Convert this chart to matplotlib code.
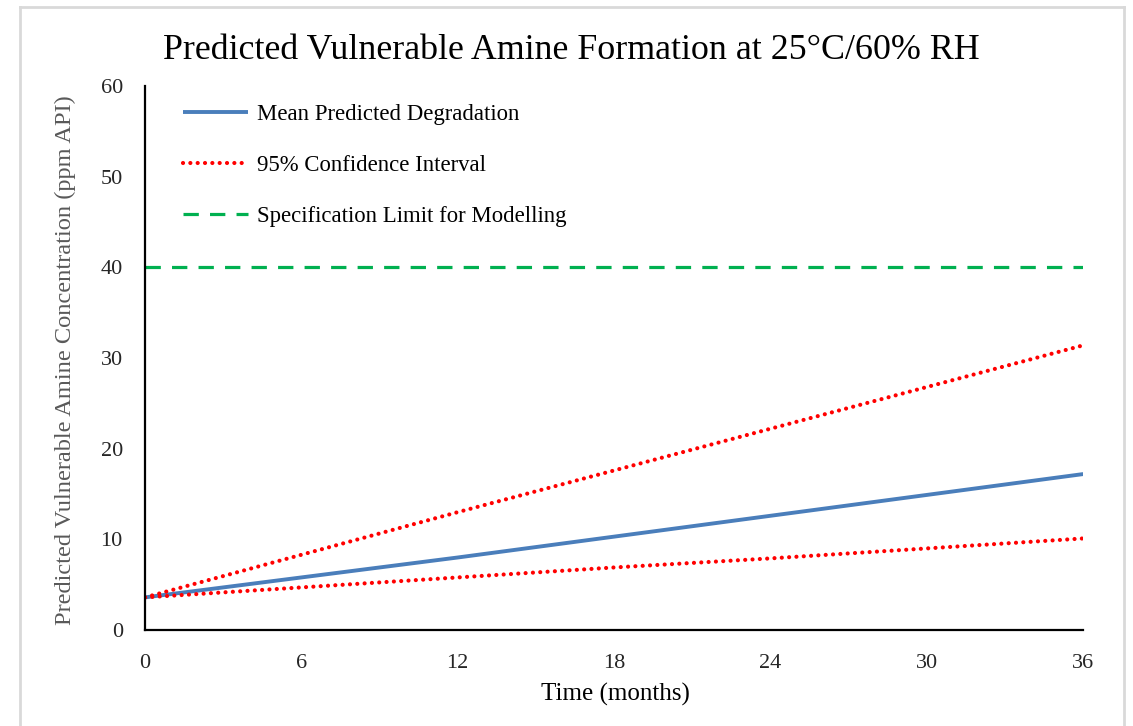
import numpy as np
import matplotlib.pyplot as plt
from matplotlib.lines import Line2D

plt.rcParams["font.family"] = ["Liberation Serif", "DejaVu Serif"]

# -----------------------------
# Model output (ppm API)
# -----------------------------
months = [0, 6, 12, 18, 24, 30, 36]
mean_pred = [3.6, 5.8, 8.0, 10.3, 12.6, 14.9, 17.2]
ci_upper = [3.6, 8.3, 13.0, 17.6, 22.2, 26.8, 31.4]
ci_lower = [3.6, 4.7, 5.8, 6.9, 7.9, 9.0, 10.1]
spec_limit = 40

fig = plt.figure(figsize=(11.33, 7.26), dpi=100)
ax = fig.add_axes([0.128, 0.1322, 0.828, 0.7493])

ax.plot(months, mean_pred, color="#4a7ebb", lw=2.8,
        solid_capstyle="butt", label="Mean Predicted Degradation")
ax.plot(months, ci_upper, color="#ff0000", lw=3,
        linestyle=(0, (0.01, 1.75)), dash_capstyle="round",
        label="95% Confidence Interval")
ax.plot(months, ci_lower, color="#ff0000", lw=3,
        linestyle=(0, (0.01, 1.75)), dash_capstyle="round")
ax.plot([months[0], months[-1]], [spec_limit, spec_limit], color="#00b050",
        lw=2.3, linestyle=(0, (4.8, 3.5)),
        label="Specification Limit for Modelling")

ax.set_xlim(0, 36)
ax.set_ylim(0, 60)
ax.set_xticks(months)
ax.set_yticks(range(0, 61, 10))
ax.tick_params(length=0, labelsize=16, colors="#262626")
ax.tick_params(axis="y", pad=16)
ax.tick_params(axis="x", pad=17)

for side in ["top", "right"]:
    ax.spines[side].set_visible(False)
for side in ["left", "bottom"]:
    ax.spines[side].set_linewidth(1.6)
    ax.spines[side].set_color("black")

ax.set_xlabel("Time (months)", fontsize=18)
ax.xaxis.set_label_coords(0.501, -0.097)
ax.set_ylabel("Predicted Vulnerable Amine Concentration (ppm API)",
              fontsize=17.6, color="#595959")
ax.yaxis.set_label_coords(-0.0737, 0.496)
fig.suptitle("Predicted Vulnerable Amine Formation at 25°C/60% RH",
             fontsize=25.8, x=0.5044, y=0.953)

ax.legend(loc="upper left", frameon=False, fontsize=16.4,
          handlelength=2.85, handletextpad=0.4, labelspacing=1.33,
          bbox_to_anchor=(0.0186, 1.0055))

# light grey frame around the chart area
x0, x1, y0 = 20 / 1133, 1124 / 1133, 1 - 7 / 726
for xs, ys in [([x0, x0], [0, y0]), ([x1, x1], [0, y0]), ([x0, x1], [y0, y0])]:
    fig.add_artist(Line2D(xs, ys, transform=fig.transFigure,
                          color="#d9d9d9", lw=2))

fig.savefig("out.png", dpi=100)
